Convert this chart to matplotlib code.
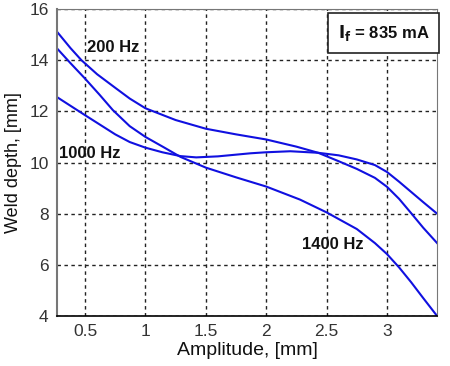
import matplotlib
matplotlib.use("Agg")
import matplotlib.pyplot as plt

plt.rcParams['font.family'] = ['Liberation Sans', 'DejaVu Sans']

amp_200 = [0.27, 0.38, 0.47, 0.6, 0.75, 0.87, 1.0, 1.25, 1.5, 1.75, 2.0, 2.25, 2.43,
           2.6, 2.75, 2.9, 3.0, 3.1, 3.2, 3.3, 3.415]
depth_200 = [15.1, 14.47, 14.0, 13.45, 12.92, 12.5, 12.12, 11.66, 11.32, 11.1, 10.9, 10.62, 10.38,
             10.05, 9.75, 9.4, 9.05, 8.58, 8.02, 7.45, 6.85]

amp_1000 = [0.27, 0.5, 0.75, 0.87, 1.0, 1.14, 1.29, 1.42, 1.6, 1.87, 2.0, 2.2, 2.43,
            2.6, 2.75, 2.9, 3.0, 3.1, 3.2, 3.3, 3.415]
depth_1000 = [12.55, 11.85, 11.1, 10.8, 10.58, 10.4, 10.25, 10.2, 10.24, 10.36, 10.4, 10.44, 10.38,
              10.28, 10.12, 9.9, 9.63, 9.25, 8.85, 8.45, 8.0]

amp_1400 = [0.27, 0.38, 0.5, 0.62, 0.73, 0.87, 1.0, 1.15, 1.29, 1.5, 1.75, 2.0, 2.28,
            2.5, 2.75, 2.9, 3.0, 3.1, 3.2, 3.3, 3.415]
depth_1400 = [14.45, 13.88, 13.28, 12.65, 12.05, 11.42, 11.0, 10.6, 10.22, 9.8, 9.42, 9.06, 8.55,
              8.05, 7.4, 6.85, 6.42, 5.9, 5.32, 4.7, 4.0]

xticks = [0.5, 1, 1.5, 2, 2.5, 3]
xtick_labels = ['0.5', '1', '1.5', '2', '2.5', '3']
yticks = [4, 6, 8, 10, 12, 14, 16]

fig = plt.figure(figsize=(4.5, 3.66), dpi=100)
ax = fig.add_axes([0.1267, 0.1366, 0.8444, 0.8388])

blue = '#1010e0'
for xs, ys in [(amp_200, depth_200), (amp_1000, depth_1000), (amp_1400, depth_1400)]:
    ax.plot(xs, ys, color=blue, lw=1.5)

ax.set_xlim(0.268, 3.414)
ax.set_ylim(4, 16)
ax.set_xticks(xticks)
ax.set_xticklabels(xtick_labels)
ax.set_yticks(yticks)
ax.grid(True, color='#222222', linestyle=(0, (2.5, 2.5)), linewidth=1.0)
ax.tick_params(labelsize=12.5, length=0, pad=6, colors='#333333')
for s in ['top', 'right']:
    ax.spines[s].set_color('#777777')
ax.spines['left'].set_color('#777777')
ax.spines['left'].set_linewidth(1.5)
ax.spines['bottom'].set_color('black')
ax.spines['bottom'].set_linewidth(1.2)

ax.set_xlabel('Amplitude, [mm]', fontsize=14, labelpad=2, color='#111111')
ax.set_ylabel('Weld depth, [mm]', fontsize=13, labelpad=5, color='#111111')

ax.text(0.52, 14.5, '200 Hz', fontsize=12, fontweight='bold', ha='left', va='center', color='#111111')
ax.text(0.285, 10.35, '1000 Hz', fontsize=12, fontweight='bold', ha='left', va='center', color='#111111')
ax.text(2.30, 6.8, '1400 Hz', fontsize=12, fontweight='bold', ha='left', va='center', color='#111111')

ax.text(2.97, 15.06, r'$\mathbf{I_f}$ = 835 mA', fontsize=12, fontweight='bold', ha='center', va='center',
        color='#111111',
        bbox=dict(boxstyle='square,pad=0.6', facecolor='white', edgecolor='#222222', linewidth=1.2))

fig.savefig('out.png', dpi=100)
